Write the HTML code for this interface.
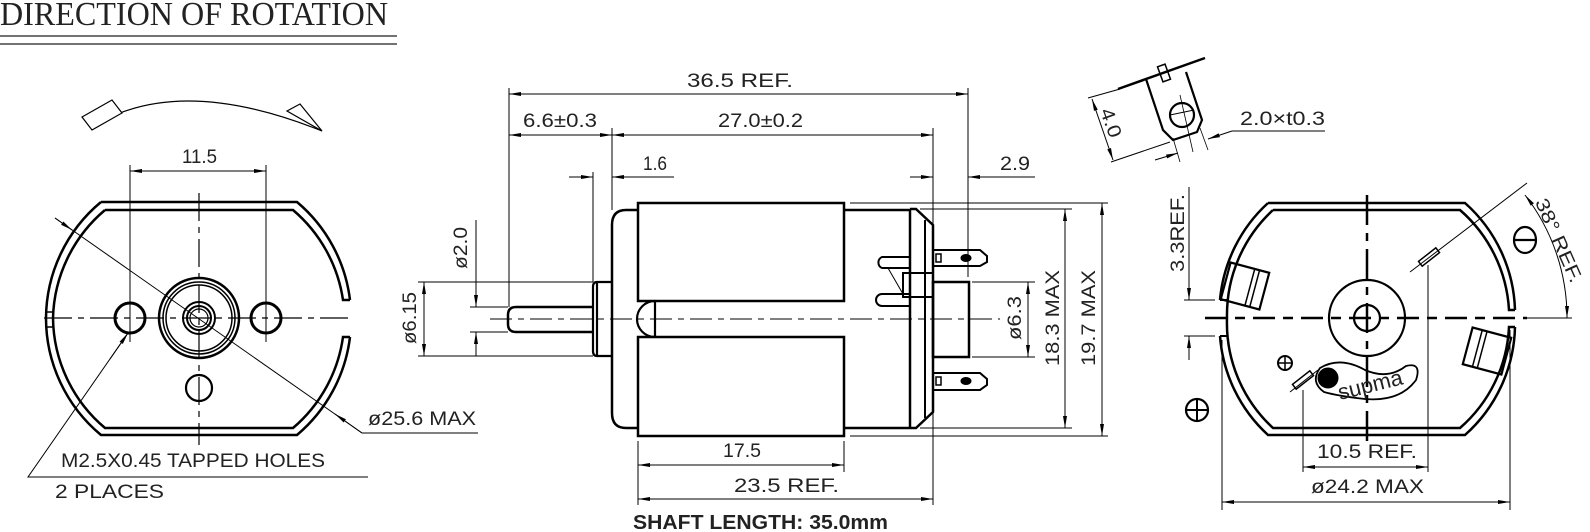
<!DOCTYPE html>
<html><head><meta charset="utf-8"><style>
html,body{margin:0;padding:0;background:#fff;}
svg{display:block;}
text{font-family:"Liberation Sans",sans-serif;fill:#222;}
</style></head><body>
<svg width="1590" height="532" viewBox="0 0 1590 532" xmlns="http://www.w3.org/2000/svg">
<defs>
<marker id="a" viewBox="0 0 12 6" refX="12" refY="3" markerWidth="12" markerHeight="6" orient="auto-start-reverse" markerUnits="userSpaceOnUse"><path d="M0,1 L12,3 L0,5z" fill="#000"/></marker>
</defs>
<text x="0" y="25" style="font-family:'Liberation Serif',serif" font-size="34" textLength="388" lengthAdjust="spacingAndGlyphs">DIRECTION OF ROTATION</text>
<line x1="0" y1="36" x2="397" y2="36" stroke="#444" stroke-width="1.5"/>
<line x1="0" y1="44" x2="397" y2="44" stroke="#444" stroke-width="1.5"/>

<g fill="none" stroke="#000">
<path d="M120,113 Q200,82 322,131" stroke-width="1.2"/>
<path d="M82,117 L112,100 L122,113 L92,130Z" stroke-width="1.2" fill="#fff"/>
<path d="M287,111 L300,104 L322,131Z" stroke-width="1.2" fill="#fff"/>
<path d="M101,202 L297,202 A152,152 0 0 1 350,300 M350,337 A152,152 0 0 1 297,435 L101,435 A152,152 0 0 1 46,318 A152,152 0 0 1 101,202" stroke-width="2.5"/>
<path d="M105,210 L293,210 A146,146 0 0 1 343,300 L350,300 M350,337 L343,337 A146,146 0 0 1 293,428 L105,428 A146,146 0 0 1 53,318 A146,146 0 0 1 105,210" stroke-width="2.5"/>
<line x1="46" y1="312" x2="53" y2="312" stroke-width="1.5"/><line x1="46" y1="327" x2="53" y2="327" stroke-width="1.5"/>
<circle cx="130" cy="318" r="15" stroke-width="3"/>
<circle cx="266" cy="318" r="15" stroke-width="3"/>
<circle cx="199" cy="318" r="40" stroke-width="2.5"/>
<circle cx="199" cy="318" r="36" stroke-width="1.5"/>
<circle cx="199" cy="318" r="33" stroke-width="1.5"/>
<circle cx="199" cy="318" r="16" stroke-width="2"/>
<circle cx="199" cy="318" r="12" stroke-width="2"/>
<circle cx="199" cy="318" r="9" stroke-width="1.2"/>
<circle cx="199" cy="388" r="13" stroke-width="2.2"/>
<line x1="199" y1="193" x2="199" y2="445" stroke-width="1.2" stroke-dasharray="28,6,6,6"/>
<line x1="44" y1="318" x2="354" y2="318" stroke-width="1.2" stroke-dasharray="28,6,6,6"/>
<line x1="130" y1="165" x2="130" y2="342" stroke-width="1"/>
<line x1="266" y1="165" x2="266" y2="342" stroke-width="1"/>
<line x1="130" y1="171" x2="266" y2="171" stroke-width="1" marker-start="url(#a)" marker-end="url(#a)"/>
<line x1="55" y1="218" x2="362" y2="433" stroke-width="1"/>
<line x1="55" y1="218" x2="72" y2="230" stroke-width="1" marker-end="url(#a)"/>
<line x1="362" y1="433" x2="335" y2="414" stroke-width="1" marker-end="url(#a)"/>
<line x1="362" y1="433" x2="478" y2="433" stroke-width="1"/>
<polyline points="128,333 28,477 368,477" stroke-width="1"/>
<line x1="110" y1="359" x2="128" y2="333" stroke-width="1" marker-end="url(#a)"/>

<line x1="490" y1="319" x2="1000" y2="319" stroke-width="1" stroke-dasharray="22,6,6,6"/>
<path d="M593,307 L516,307 Q508,307 508,315 L508,324 Q508,332 516,332 L593,332" stroke-width="2.5"/>
<path d="M612,282 L597,282 Q593,282 593,287 L593,351 Q593,356 597,356 L612,356 M597,282 L597,356" stroke-width="2.2"/>
<path d="M638,210 L626,210 Q612,210 612,225 L612,413 Q612,428 626,428 L638,428" stroke-width="2.5"/>
<rect x="638" y="203" width="206" height="98" stroke-width="2.5"/>
<rect x="638" y="337" width="206" height="99" stroke-width="2.5"/>
<path d="M655,301 L655,337 M655,301 A18,18 0 0 0 655,337" stroke-width="2.2"/>
<line x1="844" y1="210" x2="910" y2="210" stroke-width="2.5"/>
<line x1="844" y1="428" x2="910" y2="428" stroke-width="2.5"/>
<path d="M910,209 L910,428 M910,209 L916,209 L933,225 L933,412 L916,428 L910,428" stroke-width="2.5"/>
<line x1="925" y1="220" x2="925" y2="418" stroke-width="2"/>
<rect x="903" y="273" width="30" height="24" stroke-width="2"/>
<path d="M910,257 L882,257 A6,6 0 0 0 882,268 L910,268" stroke-width="2"/>
<path d="M910,294 L882,294 A6,6 0 0 0 882,306 L910,306" stroke-width="2"/>
<line x1="888" y1="268" x2="903" y2="294" stroke-width="1"/>
<path d="M933,250 L980,250 L987,256 L987,262 L980,266 L933,266" stroke-width="2"/>
<ellipse cx="966" cy="258" rx="5" ry="3.5" fill="#000"/>
<rect x="936" y="254" width="5" height="8" stroke-width="1.5"/>
<path d="M933,373 L980,373 L987,379 L987,385 L980,390 L933,390" stroke-width="2"/>
<ellipse cx="966" cy="381" rx="5" ry="3.5" fill="#000"/>
<rect x="936" y="377" width="5" height="8" stroke-width="1.5"/>
<rect x="933" y="282" width="36" height="75" stroke-width="2.5"/>

<g stroke-width="1">
<line x1="509" y1="88" x2="509" y2="307"/>
<line x1="612" y1="128" x2="612" y2="210"/>
<line x1="593" y1="172" x2="593" y2="282"/>
<line x1="933" y1="128" x2="933" y2="505"/>
<line x1="968" y1="88" x2="968" y2="277"/>
<line x1="509" y1="94" x2="968" y2="94" marker-start="url(#a)" marker-end="url(#a)"/>
<line x1="509" y1="135" x2="612" y2="135" marker-start="url(#a)" marker-end="url(#a)"/>
<line x1="612" y1="135" x2="933" y2="135" marker-start="url(#a)" marker-end="url(#a)"/>
<line x1="569" y1="177" x2="593" y2="177" marker-end="url(#a)"/>
<line x1="674" y1="177" x2="612" y2="177" marker-end="url(#a)"/>
<line x1="910" y1="177" x2="933" y2="177" marker-end="url(#a)"/>
<line x1="1035" y1="177" x2="968" y2="177" marker-end="url(#a)"/>
<line x1="470" y1="307" x2="508" y2="307"/><line x1="470" y1="332" x2="508" y2="332"/>
<line x1="476" y1="220" x2="476" y2="307" marker-end="url(#a)"/>
<line x1="476" y1="356" x2="476" y2="332" marker-end="url(#a)"/>
<line x1="418" y1="282" x2="593" y2="282"/><line x1="418" y1="356" x2="593" y2="356"/>
<line x1="424" y1="282" x2="424" y2="356" marker-start="url(#a)" marker-end="url(#a)"/>
<line x1="972" y1="282" x2="1035" y2="282"/><line x1="972" y1="357" x2="1035" y2="357"/>
<line x1="1028" y1="282" x2="1028" y2="357" marker-start="url(#a)" marker-end="url(#a)"/>
<line x1="920" y1="209" x2="1072" y2="209"/><line x1="920" y1="428" x2="1072" y2="428"/>
<line x1="1065" y1="209" x2="1065" y2="428" marker-start="url(#a)" marker-end="url(#a)"/>
<line x1="850" y1="203" x2="1108" y2="203"/><line x1="850" y1="436" x2="1108" y2="436"/>
<line x1="1102" y1="203" x2="1102" y2="436" marker-start="url(#a)" marker-end="url(#a)"/>
<line x1="638" y1="441" x2="638" y2="505"/><line x1="844" y1="441" x2="844" y2="472"/>
<line x1="638" y1="465" x2="844" y2="465" marker-start="url(#a)" marker-end="url(#a)"/>
<line x1="638" y1="499" x2="933" y2="499" marker-start="url(#a)" marker-end="url(#a)"/>
</g>

<!-- terminal detail -->
<line x1="1118" y1="89" x2="1205" y2="58" stroke-width="2.5"/>
<path d="M1146,79 L1163,130 L1173,140 L1197,132 L1202,120 L1186,72" stroke-width="2.2"/>
<rect x="1160" y="65" width="8" height="16" transform="rotate(-20 1164 73)" stroke-width="1.5"/>
<circle cx="1182" cy="115" r="12" stroke-width="2.2"/>
<line x1="1170" y1="115" x2="1194" y2="110" stroke-width="1"/>
<line x1="1180" y1="95" x2="1193" y2="152" stroke-width="0.8"/>
<line x1="1088" y1="98" x2="1120" y2="89" stroke-width="1"/>
<line x1="1111" y1="162" x2="1170" y2="142" stroke-width="1"/>
<line x1="1092" y1="99" x2="1113" y2="160" stroke-width="1" marker-start="url(#a)" marker-end="url(#a)"/>
<line x1="1173" y1="138" x2="1180" y2="162" stroke-width="0.8"/>
<line x1="1200" y1="128" x2="1208" y2="150" stroke-width="0.8"/>
<line x1="1155" y1="160" x2="1178" y2="153" stroke-width="1" marker-end="url(#a)"/>
<line x1="1232" y1="131" x2="1208" y2="139" stroke-width="1" marker-end="url(#a)"/>
<line x1="1232" y1="131" x2="1325" y2="131" stroke-width="1"/>

<!-- right view -->
<path d="M1268,203 L1465,203 A149,149 0 0 1 1515,310 M1515,327 A149,149 0 0 1 1465,435 L1268,435 A149,149 0 0 1 1220,336 M1220,300 A149,149 0 0 1 1268,203" stroke-width="2.5"/>
<path d="M1273,210 L1460,210 A143,143 0 0 1 1509,310 L1515,310 M1515,327 L1509,327 A143,143 0 0 1 1460,428 L1273,428 A143,143 0 0 1 1227,318 A143,143 0 0 1 1273,210" stroke-width="2.5"/>
<line x1="1220" y1="300" x2="1227" y2="300" stroke-width="2"/><line x1="1220" y1="336" x2="1227" y2="336" stroke-width="2"/>
<g transform="rotate(15 1245 286)"><rect x="1225" y="267" width="40" height="38" stroke-width="2.2"/><line x1="1250" y1="267" x2="1250" y2="305" stroke-width="1.5"/><line x1="1255" y1="267" x2="1255" y2="305" stroke-width="1.5"/></g>
<g transform="rotate(15 1487 351)"><rect x="1467" y="332" width="40" height="38" stroke-width="2.2"/><line x1="1477" y1="332" x2="1477" y2="370" stroke-width="1.5"/><line x1="1482" y1="332" x2="1482" y2="370" stroke-width="1.5"/></g>
<circle cx="1367" cy="318" r="38" stroke-width="2.2"/>
<circle cx="1367" cy="318" r="13" stroke-width="2.2"/>
<line x1="1367" y1="195" x2="1367" y2="442" stroke-width="2.5" stroke-dasharray="30,8,8,8"/>
<line x1="1205" y1="318" x2="1527" y2="318" stroke-width="2.5" stroke-dasharray="22,8,10,8"/>
<ellipse cx="1525" cy="240" rx="11" ry="13" stroke-width="2.2"/><line x1="1514" y1="240" x2="1536" y2="240" stroke-width="2.2"/>
<circle cx="1197" cy="410" r="11" stroke-width="2.2"/><line x1="1186" y1="410" x2="1208" y2="410" stroke-width="2"/><line x1="1197" y1="399" x2="1197" y2="421" stroke-width="2"/>
<circle cx="1285" cy="363" r="7" stroke-width="2"/><line x1="1278" y1="363" x2="1292" y2="363" stroke-width="1.5"/><line x1="1285" y1="356" x2="1285" y2="370" stroke-width="1.5"/>
<rect x="1418" y="254" width="22" height="6" transform="rotate(-38 1429 257)" stroke-width="1.5"/>
<rect x="1292" y="377" width="22" height="6" transform="rotate(-38 1303 380)" stroke-width="1.5"/>
<line x1="1410" y1="272" x2="1527" y2="183" stroke-width="1"/>
<line x1="1290" y1="392" x2="1318" y2="370" stroke-width="1"/>
<path d="M1320,368 Q1340,356 1365,370 Q1388,380 1406,366 Q1422,362 1416,380 Q1400,402 1365,399 Q1338,396 1324,392 Q1310,382 1320,368Z" stroke-width="1.8"/>
<circle cx="1328" cy="378" r="10" fill="#000"/>
<path d="M1525,195 A200,200 0 0 1 1567,318" stroke-width="1" marker-start="url(#a)" marker-end="url(#a)"/>
<line x1="1527" y1="318" x2="1572" y2="318" stroke-width="1"/>
<g stroke-width="1">
<line x1="1189" y1="187" x2="1189" y2="300" marker-end="url(#a)"/>
<line x1="1189" y1="360" x2="1189" y2="336" marker-end="url(#a)"/>
<line x1="1184" y1="300" x2="1215" y2="300"/><line x1="1184" y1="336" x2="1215" y2="336"/>
<line x1="1303" y1="390" x2="1303" y2="472"/><line x1="1428" y1="265" x2="1428" y2="472"/>
<line x1="1303" y1="467" x2="1428" y2="467" marker-start="url(#a)" marker-end="url(#a)"/>
<line x1="1222" y1="340" x2="1222" y2="510"/><line x1="1510" y1="330" x2="1510" y2="510"/>
<line x1="1222" y1="502" x2="1510" y2="502" marker-start="url(#a)" marker-end="url(#a)"/>
</g>
</g>

<g font-size="19">
<text x="182" y="163" textLength="35" lengthAdjust="spacingAndGlyphs">11.5</text>
<text x="368" y="425" textLength="108" lengthAdjust="spacingAndGlyphs">ø25.6 MAX</text>
<text x="61" y="467" textLength="264" lengthAdjust="spacingAndGlyphs">M2.5X0.45 TAPPED HOLES</text>
<text x="55" y="498" textLength="109" lengthAdjust="spacingAndGlyphs">2 PLACES</text>
<text x="687" y="87" textLength="106" lengthAdjust="spacingAndGlyphs">36.5 REF.</text>
<text x="523" y="127" textLength="74" lengthAdjust="spacingAndGlyphs">6.6±0.3</text>
<text x="718" y="127" textLength="85" lengthAdjust="spacingAndGlyphs">27.0±0.2</text>
<text x="643" y="170" textLength="24" lengthAdjust="spacingAndGlyphs">1.6</text>
<text x="1000" y="170" textLength="30" lengthAdjust="spacingAndGlyphs">2.9</text>
<text transform="translate(467,248) rotate(-90)" x="-21" textLength="42" lengthAdjust="spacingAndGlyphs">ø2.0</text>
<text transform="translate(416,318) rotate(-90)" x="-26" textLength="52" lengthAdjust="spacingAndGlyphs">ø6.15</text>
<text transform="translate(1021,318) rotate(-90)" x="-22" textLength="44" lengthAdjust="spacingAndGlyphs">ø6.3</text>
<text transform="translate(1059,318) rotate(-90)" x="-48" textLength="96" lengthAdjust="spacingAndGlyphs">18.3 MAX</text>
<text transform="translate(1095,318) rotate(-90)" x="-48" textLength="96" lengthAdjust="spacingAndGlyphs">19.7 MAX</text>
<text x="723" y="457" textLength="38" lengthAdjust="spacingAndGlyphs">17.5</text>
<text x="734" y="492" textLength="105" lengthAdjust="spacingAndGlyphs">23.5 REF.</text>
<text transform="translate(1105,125) rotate(70)" x="-15" textLength="30" lengthAdjust="spacingAndGlyphs">4.0</text>
<text x="1240" y="125" textLength="85" lengthAdjust="spacingAndGlyphs">2.0×t0.3</text>
<text transform="translate(1184,233) rotate(-90)" x="-39" textLength="78" lengthAdjust="spacingAndGlyphs">3.3REF.</text>
<text transform="translate(1553,243) rotate(66)" x="-45" textLength="90" lengthAdjust="spacingAndGlyphs">38° REF.</text>
<text x="1317" y="458" textLength="100" lengthAdjust="spacingAndGlyphs">10.5 REF.</text>
<text x="1311" y="493" textLength="113" lengthAdjust="spacingAndGlyphs">ø24.2 MAX</text>
</g>
<text transform="translate(1372,392) rotate(-14)" font-size="22" text-anchor="middle" fill="#000">supma</text>
<text x="633" y="529" font-size="20" font-weight="bold" textLength="255" lengthAdjust="spacingAndGlyphs" fill="#000">SHAFT LENGTH: 35.0mm</text>
</svg>
</body></html>
